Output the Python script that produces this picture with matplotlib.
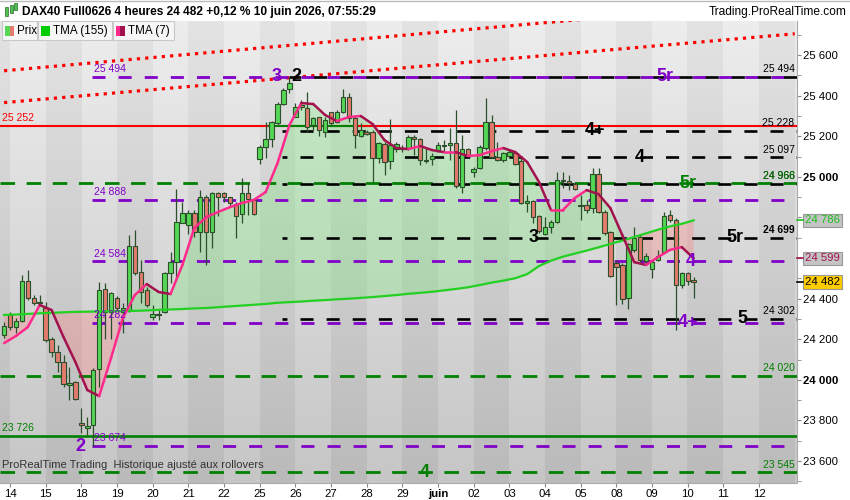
import numpy as np
import matplotlib.pyplot as plt
from matplotlib.collections import LineCollection
from matplotlib.patches import Rectangle
from matplotlib.transforms import blended_transform_factory

plt.rcParams['font.family'] = ['Liberation Sans', 'DejaVu Sans']
plt.rcParams['lines.scale_dashes'] = False

# ---- DAX40 4h bars: last bar of 13 May, then 14 May ... 10 June 04:00 ----
opens = [24221, 24319, 24260, 24290, 24487, 24403, 24383, 24354, 24201, 24137,
         24088, 23974, 23989, 23787, 23763, 23778, 24053, 24447, 24334, 24403,
         24334, 24339, 24659, 24531, 24442, 24309, 24324, 24334, 24526, 24580,
         24772, 24763, 24822, 24728, 24901, 24728, 24920, 24920, 24901, 24866,
         24817, 24920, 24886, 25088, 25147, 25186, 25265, 25359, 25433, 25295,
         25354, 25339, 25255, 25295, 25221, 25319, 25270, 25319, 25393, 25290,
         25201, 25221, 25221, 25093, 25162, 25078, 25137, 25137, 25142, 25196,
         25186, 25083, 25088, 25127, 25157, 25157, 25167, 24950, 25137, 25024,
         25043, 25142, 25270, 25098, 25083, 25103, 25117, 25078, 24871, 24881,
         24807, 24718, 24753, 24777, 24984, 24980, 24965, 24861, 24861, 24846,
         25014, 24827, 24728, 24575, 24566, 24403, 24640, 24704, 24585, 24546,
         24590, 24630, 24812, 24787, 24467, 24526, 24492]
highs = [24285, 24334, 24305, 24516, 24541, 24418, 24418, 24383, 24211, 24172,
         24122, 24063, 23994, 23861, 23817, 24058, 24482, 24477, 24433, 24413,
         24378, 24713, 24738, 24590, 24457, 24369, 24349, 24531, 24630, 24940,
         24876, 24837, 24837, 24935, 24910, 24925, 24925, 24925, 24901, 24876,
         24994, 24970, 24896, 25157, 25270, 25275, 25369, 25437, 25494, 25364,
         25378, 25418, 25295, 25295, 25295, 25319, 25329, 25433, 25413, 25305,
         25265, 25231, 25231, 25172, 25172, 25285, 25172, 25157, 25206, 25206,
         25191, 25147, 25117, 25172, 25181, 25240, 25329, 25206, 25142, 25048,
         25157, 25388, 25305, 25172, 25122, 25132, 25122, 25093, 24910, 24886,
         24812, 24802, 24787, 25024, 25024, 25009, 24974, 24910, 24886, 25043,
         25043, 24837, 24733, 24590, 24575, 24674, 24753, 24713, 24625, 24585,
         24640, 24827, 24837, 24797, 24531, 24531, 24507]
lows = [24206, 24245, 24231, 24285, 24393, 24369, 24369, 24186, 24112, 24039,
        23965, 23901, 23901, 23738, 23728, 23674, 23965, 24201, 24201, 24344,
        24231, 24334, 24516, 24378, 24359, 24295, 24295, 24329, 24477, 24492,
        24772, 24718, 24704, 24630, 24565, 24649, 24807, 24876, 24851, 24699,
        24772, 24812, 24812, 25063, 25093, 25147, 25255, 25354, 25413, 25295,
        25329, 25221, 25231, 25201, 25196, 25255, 25265, 25314, 25270, 25142,
        25196, 25206, 24974, 25068, 25009, 25038, 25122, 25122, 25132, 25107,
        25058, 25068, 25058, 25122, 25122, 25083, 24945, 24920, 25098, 24999,
        25038, 25132, 25093, 25078, 25073, 25098, 25058, 24866, 24827, 24772,
        24723, 24713, 24723, 24772, 24945, 24935, 24935, 24787, 24822, 24822,
        24822, 24713, 24506, 24369, 24373, 24349, 24630, 24580, 24566, 24502,
        24585, 24625, 24777, 24245, 24452, 24467, 24403]
closes = [24265, 24260, 24290, 24487, 24403, 24378, 24380, 24196, 24137, 24088,
          23979, 23984, 23906, 23778, 23773, 24048, 24442, 24334, 24428, 24354,
          24354, 24659, 24526, 24433, 24369, 24324, 24322, 24526, 24580, 24777,
          24822, 24822, 24728, 24901, 24728, 24920, 24901, 24901, 24871, 24807,
          24920, 24891, 24817, 25147, 25186, 25270, 25359, 25428, 25462, 25344,
          25344, 25245, 25290, 25231, 25280, 25265, 25319, 25393, 25290, 25206,
          25231, 25211, 25093, 25167, 25073, 25157, 25162, 25142, 25196, 25186,
          25083, 25080, 25103, 25157, 25152, 25167, 24955, 25137, 25107, 25038,
          25147, 25270, 25098, 25083, 25117, 25122, 25063, 24871, 24881, 24802,
          24733, 24753, 24777, 24984, 24980, 24970, 24940, 24859, 24837, 25014,
          24827, 24723, 24511, 24556, 24398, 24669, 24699, 24590, 24610, 24580,
          24610, 24807, 24787, 24467, 24526, 24487, 24482]

day_labels = ['14', '15', '18', '19', '20', '21', '22', '25', '26', '27', '28',
              '29', 'juin', '02', '03', '04', '05', '08', '09', '10', '11', '12']
bars_per_day = 6

# indicators read every 2 bars
tma_bars = list(range(0, 117, 2))
tma7 = [24181, 24216, 24260, 24369, 24344, 24211, 24088, 23950, 23920, 24108,
        24305, 24418, 24472, 24433, 24423, 24566, 24748, 24802, 24827, 24851,
        24871, 24886, 24925, 25068, 25255, 25364, 25359, 25305, 25275, 25295,
        25300, 25260, 25181, 25142, 25137, 25152, 25132, 25122, 25122, 25103,
        25107, 25127, 25142, 25122, 25073, 24974, 24837, 24837, 24896, 24935,
        24915, 24846, 24713, 24580, 24566, 24605, 24640, 24654, 24599]
tma155 = [24320, 24322, 24325, 24328, 24330, 24333, 24335, 24336, 24337, 24338,
          24339, 24340, 24342, 24345, 24347, 24349, 24352, 24354, 24358, 24362,
          24366, 24370, 24374, 24380, 24383, 24386, 24390, 24393, 24397, 24400,
          24404, 24408, 24413, 24418, 24424, 24429, 24434, 24441, 24448, 24456,
          24467, 24479, 24489, 24501, 24521, 24561, 24587, 24607, 24622, 24637,
          24653, 24670, 24686, 24704, 24722, 24740, 24756, 24769, 24786]

# trend lines (bar, price at both ends)
trend_bars = [0, 133]
trend_upper = [25523, 25869]
trend_lower = [25366, 25705]

# horizontal levels
purple_levels = [25494, 24888, 24584, 24282, 23674]
black_levels = [25494, 25228, 25097, 24966, 24699, 24302]
green_dashed_levels = [24968, 24020, 23545]
red_level = 25252
green_level = 23726
black_right_labels = [25494, 25228, 25097, 24966, 24699, 24302]
green_right_labels = [24968, 24020, 23545]

wave_labels = ['3', '2', '5r', '4+', '4', '5r', '3', '5r', '4', '4+', '5', '2', '4']
wave_prices = [25494, 25494, 25494, 25228, 25097, 24968, 24699, 24699,
               24584, 24282, 24302, 23674, 23545]

PURPLE = '#8000C8'
DKGREEN = '#008000'
GRN_BODY = '#55D655'
RED_BODY = '#E37A6E'
EDGE = '#2B4F2B'
PX_BAR = 35.67 / bars_per_day      # pixels per bar
PT_BAR = PX_BAR * 0.72


def fmt(v):
    return f"{int(round(v)):,}".replace(',', ' ')


fig = plt.figure(figsize=(8.5, 5), dpi=100)
fig.patch.set_facecolor('white')
ax = fig.add_axes([0, 17 / 500, 797 / 850, 462 / 500])

xmin = 1 - 10 / PX_BAR
xmax = 1 + 787 / PX_BAR
ymin, ymax = 23492, 25768
ax.set_xlim(xmin, xmax)
ax.set_ylim(ymin, ymax)

# day bands with vertical gradient
xs = np.linspace(xmin, xmax, 1600)
light = (np.floor((xs - 1) / bars_per_day) % 2 == 0)
grad = np.linspace(0, 1, 200)[:, None]
top = np.where(light, 237, 227)[None, :]
bot = np.where(light, 198, 186)[None, :]
img = (top + (bot - top) * grad) / 255.0
ax.imshow(np.dstack([img, img, img]), extent=[xmin, xmax, ymin, ymax],
          aspect='auto', origin='upper', zorder=0, interpolation='nearest')

# TMA fill
tx = np.array(tma_bars)
t7 = np.array(tma7, dtype=float)
t155 = np.array(tma155, dtype=float)
ax.fill_between(tx, t155, t7, where=t7 >= t155, interpolate=True,
                color='#78E678', alpha=0.32, lw=0, zorder=1)
ax.fill_between(tx, t155, t7, where=t7 < t155, interpolate=True,
                color='#FF8080', alpha=0.32, lw=0, zorder=1)

# trend lines
for tl in (trend_upper, trend_lower):
    ax.plot(trend_bars, tl, color='#FF0000', lw=2.3,
            dashes=(2.3, 3.7), dash_capstyle='butt', zorder=2)

on, off = 9.4, 9.4
period = on + off
ax.axhline(red_level, color='#FF0000', lw=1.5, zorder=2)
ax.plot([44.5, 58.5], [red_level, red_level], color=DKGREEN, lw=1.5, zorder=2)
ax.axhline(green_level, color=DKGREEN, lw=1.9, zorder=2)

purple_start = 15 - 0.2
for lv in purple_levels:
    ax.plot([purple_start, xmax], [lv, lv], color=PURPLE, lw=2,
            linestyle=(0, (on, off)), dash_capstyle='butt', zorder=2)
for lv in green_dashed_levels:
    ax.plot([xmin, xmax], [lv, lv], color=DKGREEN, lw=2,
            linestyle=(0, (10.5, 8.3)), dash_capstyle='butt', zorder=2)
for lv in black_levels:
    start = 48 if lv == purple_levels[0] else 47 - 0.2
    if lv == purple_levels[0]:
        phase = ((start - purple_start) * PT_BAR) % period
    else:
        phase = ((start - xmin) * PT_BAR) % (10.5 + 8.3)
    ax.plot([start, xmax], [lv, lv], color='black', lw=1.9,
            linestyle=((phase + on) % period, (on, off)),
            dash_capstyle='butt', zorder=2)

# candles
o = np.array(opens, dtype=float)
h = np.array(highs, dtype=float)
lo = np.array(lows, dtype=float)
c = np.array(closes, dtype=float)
idx = np.arange(len(o))
up = c >= o
ax.vlines(idx, lo, h, color=EDGE, lw=0.9, zorder=3)
body_lo = np.minimum(o, c)
body_h = np.maximum(np.abs(c - o), 2)
ax.bar(idx[up], body_h[up], 0.75, bottom=body_lo[up], color=GRN_BODY,
       edgecolor=EDGE, lw=0.8, zorder=4)
ax.bar(idx[~up], body_h[~up], 0.75, bottom=body_lo[~up], color=RED_BODY,
       edgecolor=EDGE, lw=0.8, zorder=4)

# TMA lines
ax.plot(tx, t155, color='#22D022', lw=1.6, zorder=5)
pts = np.column_stack([tx, t7])
segs = np.stack([pts[:-1], pts[1:]], axis=1)
cols = ['#FF2A8C' if t7[k + 1] >= t7[k] else '#A3124F' for k in range(len(t7) - 1)]
ax.add_collection(LineCollection(segs, colors=cols, linewidths=1.8,
                                 capstyle='round', zorder=6))

# level labels
for lv in purple_levels:
    ax.annotate(fmt(lv), (purple_start + 0.4, lv), xytext=(0, 5.5),
                textcoords='offset points', color=PURPLE, fontsize=7.5,
                va='center', ha='left', zorder=7)
ax.annotate(fmt(red_level), (xmin, red_level), xytext=(1.5, 5.5),
            textcoords='offset points', color='#FF0000', fontsize=7.5,
            va='center', ha='left', zorder=7)
ax.annotate(fmt(green_level), (xmin, green_level), xytext=(1.5, 5.5),
            textcoords='offset points', color=DKGREEN, fontsize=7.5,
            va='center', ha='left', zorder=7)
bt = blended_transform_factory(ax.transAxes, ax.transData)
for lv in black_right_labels:
    ax.annotate(fmt(lv), (0.997, lv), xycoords=bt, xytext=(0, 5.5),
                textcoords='offset points', color='black', fontsize=7.5,
                va='center', ha='right', zorder=7,
                weight='bold' if lv == 24699 else 'normal')
for lv in green_right_labels:
    ax.annotate(fmt(lv), (0.997, lv), xycoords=bt, xytext=(0, 5.5),
                textcoords='offset points', color=DKGREEN, fontsize=7.5,
                va='center', ha='right', zorder=7)

# wave labels
wave_bars = [45.9, 49.1, 111.2, 99.4, 107.0, 115.1, 89.0, 123.0, 115.5,
             115.1, 124.2, 12.8, 70.8]
wave_cols = [PURPLE, 'black', PURPLE, 'black', 'black', DKGREEN, 'black',
             'black', PURPLE, PURPLE, 'black', PURPLE, DKGREEN]
for t, b, p, col in zip(wave_labels, wave_bars, wave_prices, wave_cols):
    ax.text(b, p, t, color=col, fontsize=13, weight='bold', ha='center',
            va='center', zorder=8)

ax.text(0.003, 23580, 'ProRealTime Trading  Historique ajusté aux rollovers',
        transform=bt, fontsize=8, color='#333333', va='center', ha='left',
        zorder=8)

# value boxes on the price scale
boxes = [(tma155[-1], '#1FBF1F', '#C4C4C4'),
         (tma7[-1], '#A3124F', '#C4C4C4'),
         (closes[-1], 'black', '#FFCC00')]

# axes styling
for s in ('left', 'top'):
    ax.spines[s].set_visible(False)
ax.spines['right'].set_color('#AAAAAA')
ax.spines['bottom'].set_color('#AAAAAA')
ax.yaxis.tick_right()
yt = np.arange(23600, 25601, 200)
ax.set_yticks(yt)
ax.set_yticks(np.arange(23500, 25701, 100), minor=True)
# labels sitting under a value box are hidden, as on the price scale
hidden = [any(abs(v - b[0]) < 40 for b in boxes) for v in yt]
ax.set_yticklabels(['' if hd else fmt(v) for v, hd in zip(yt, hidden)])
for lab, v in zip(ax.get_yticklabels(), yt):
    if v % 1000 == 0:
        lab.set_fontweight('bold')
ax.tick_params(axis='y', which='both', length=3, color='#888888',
               labelsize=8.2, pad=1.5)
ax.set_xticks([1 + bars_per_day * k for k in range(len(day_labels))])
ax.set_xticklabels(day_labels)
for lab in ax.get_xticklabels():
    if lab.get_text() == 'juin':
        lab.set_fontweight('bold')
ax.tick_params(axis='x', length=3, color='#888888', labelsize=8.2, pad=1.5)

for v, tc, fc in boxes:
    ax.text(1 + 8 / 797, v, fmt(v), transform=bt, color=tc, fontsize=8.2,
            ha='left', va='center', zorder=10, clip_on=False,
            bbox=dict(boxstyle='square,pad=0.15', fc=fc, ec='#999999', lw=0.8))
    ax.plot([1.0, 1 + 6 / 797], [v, v], transform=bt, color=tc, lw=1.2,
            clip_on=False, zorder=10)

# header
fig.add_artist(plt.Line2D([0, 1], [0.999, 0.999], color='#BBBBBB', lw=1))
fig.text(22 / 850, 1 - 12 / 500,
         'DAX40 Full0626 4 heures 24 482 +0,12 % 10 juin 2026, 07:55:29',
         fontsize=8.6, weight='bold', va='center', ha='left')
fig.text(847 / 850, 1 - 12 / 500, 'Trading.ProRealTime.com', fontsize=8.6,
         va='center', ha='right')
for xx, y0, y1 in ((6, 7, 16), (11, 5, 13), (16, 3, 10)):
    fig.add_artist(Rectangle((xx / 850 - 1.5 / 850, 1 - y1 / 500), 3 / 850,
                             (y1 - y0) / 500, transform=fig.transFigure,
                             fc='#4CC24C', ec='#2B6B2B', lw=0.5))

# legend boxes
legend_items = [('Prix', 2, 37, ('#55D655', '#E37A6E')),
                ('TMA (155)', 38, 112, ('#00CC00', '#00CC00')),
                ('TMA (7)', 113, 174, ('#FF2A8C', '#A3124F'))]
for name, x0, x1, (c1, c2) in legend_items:
    fig.add_artist(Rectangle((x0 / 850, 1 - 40 / 500), (x1 - x0) / 850,
                             19 / 500, transform=fig.transFigure,
                             fc='#F6F6F6', ec='#C8C8C8', lw=0.8, zorder=20))
    fig.add_artist(Rectangle(((x0 + 3) / 850, 1 - 36 / 500), 4.5 / 850,
                             10 / 500, transform=fig.transFigure,
                             fc=c1, ec='none', zorder=21))
    fig.add_artist(Rectangle(((x0 + 7.5) / 850, 1 - 36 / 500), 4.5 / 850,
                             10 / 500, transform=fig.transFigure,
                             fc=c2, ec='none', zorder=21))
    fig.text((x0 + 15) / 850, 1 - 31 / 500, name, fontsize=8.4,
             va='center', ha='left', zorder=22)

fig.savefig('out.png', dpi=100)
